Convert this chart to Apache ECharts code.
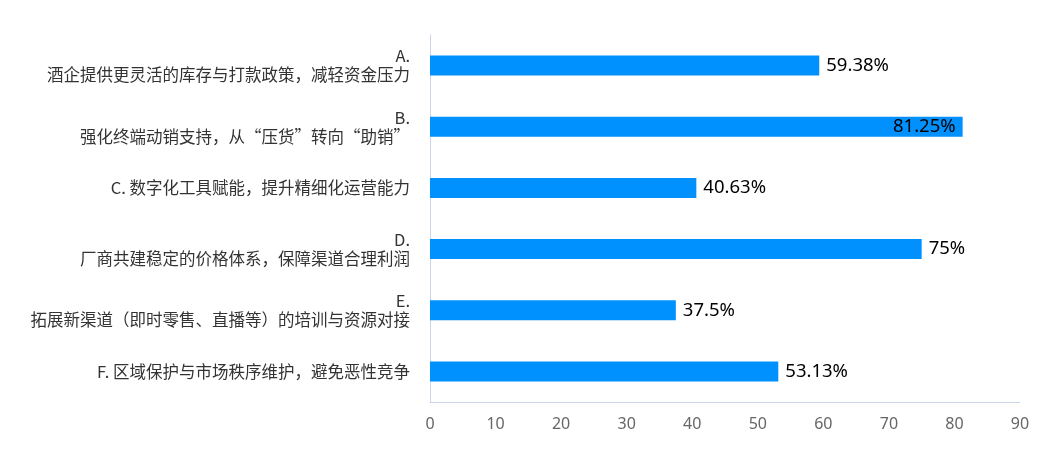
<!DOCTYPE html>
<html>
<head>
<meta charset="utf-8">
<script src="https://cdn.jsdelivr.net/npm/echarts@6/dist/echarts.min.js"></script>
<style>
html,body{margin:0;padding:0;background:#fff;}
#main{width:1045px;height:457px;}
</style>
</head>
<body>
<div id="main"></div>
<script>
// 选项（从上到下）
var categories = [
    'A.\n酒企提供更灵活的库存与打款政策，减轻资金压力',
    'B.\n强化终端动销支持，从“压货”转向“助销”',
    'C. 数字化工具赋能，提升精细化运营能力',
    'D.\n厂商共建稳定的价格体系，保障渠道合理利润',
    'E.\n拓展新渠道（即时零售、直播等）的培训与资源对接',
    'F. 区域保护与市场秩序维护，避免恶性竞争'
];
var values = [59.38, 81.25, 40.63, 75, 37.5, 53.13];
var xTicks = [0, 10, 20, 30, 40, 50, 60, 70, 80, 90];

var myChart = echarts.init(document.getElementById('main'));
var barData = values.map(function (v) {
    // B 的标签放在柱子里面
    if (v > 80) {
        return { value: v, label: { position: 'insideRight' } };
    }
    return v;
});
myChart.setOption({
    animation: false,
    grid: { left: 430, right: 25, top: 35, bottom: 55 },
    xAxis: {
        type: 'value',
        min: xTicks[0],
        max: xTicks[xTicks.length - 1],
        interval: 10,
        axisLine: { show: true, lineStyle: { color: '#ccd6eb' } },
        axisTick: { show: false },
        splitLine: { show: false },
        axisLabel: { color: '#666', fontSize: 16, margin: 14, fontFamily: 'Noto Sans' }
    },
    yAxis: {
        type: 'category',
        inverse: true,
        data: categories,
        axisLine: { show: true, lineStyle: { color: '#ccd6eb' } },
        axisTick: { show: false },
        axisLabel: {
            color: '#333',
            fontSize: 16.5,
            lineHeight: 19,
            margin: 20,
            align: 'right',
            fontFamily: 'Noto Sans CJK SC'
        }
    },
    series: [
        {
            type: 'bar',
            data: barData,
            barWidth: 20,
            itemStyle: { color: '#0091ff' },
            label: {
                show: true,
                position: 'right',
                distance: 7,
                color: '#000',
                fontSize: 18.5,
                fontFamily: 'Noto Sans',
                formatter: function (p) { return p.value + '%'; }
            }
        }
    ]
});
</script>
</body>
</html>
